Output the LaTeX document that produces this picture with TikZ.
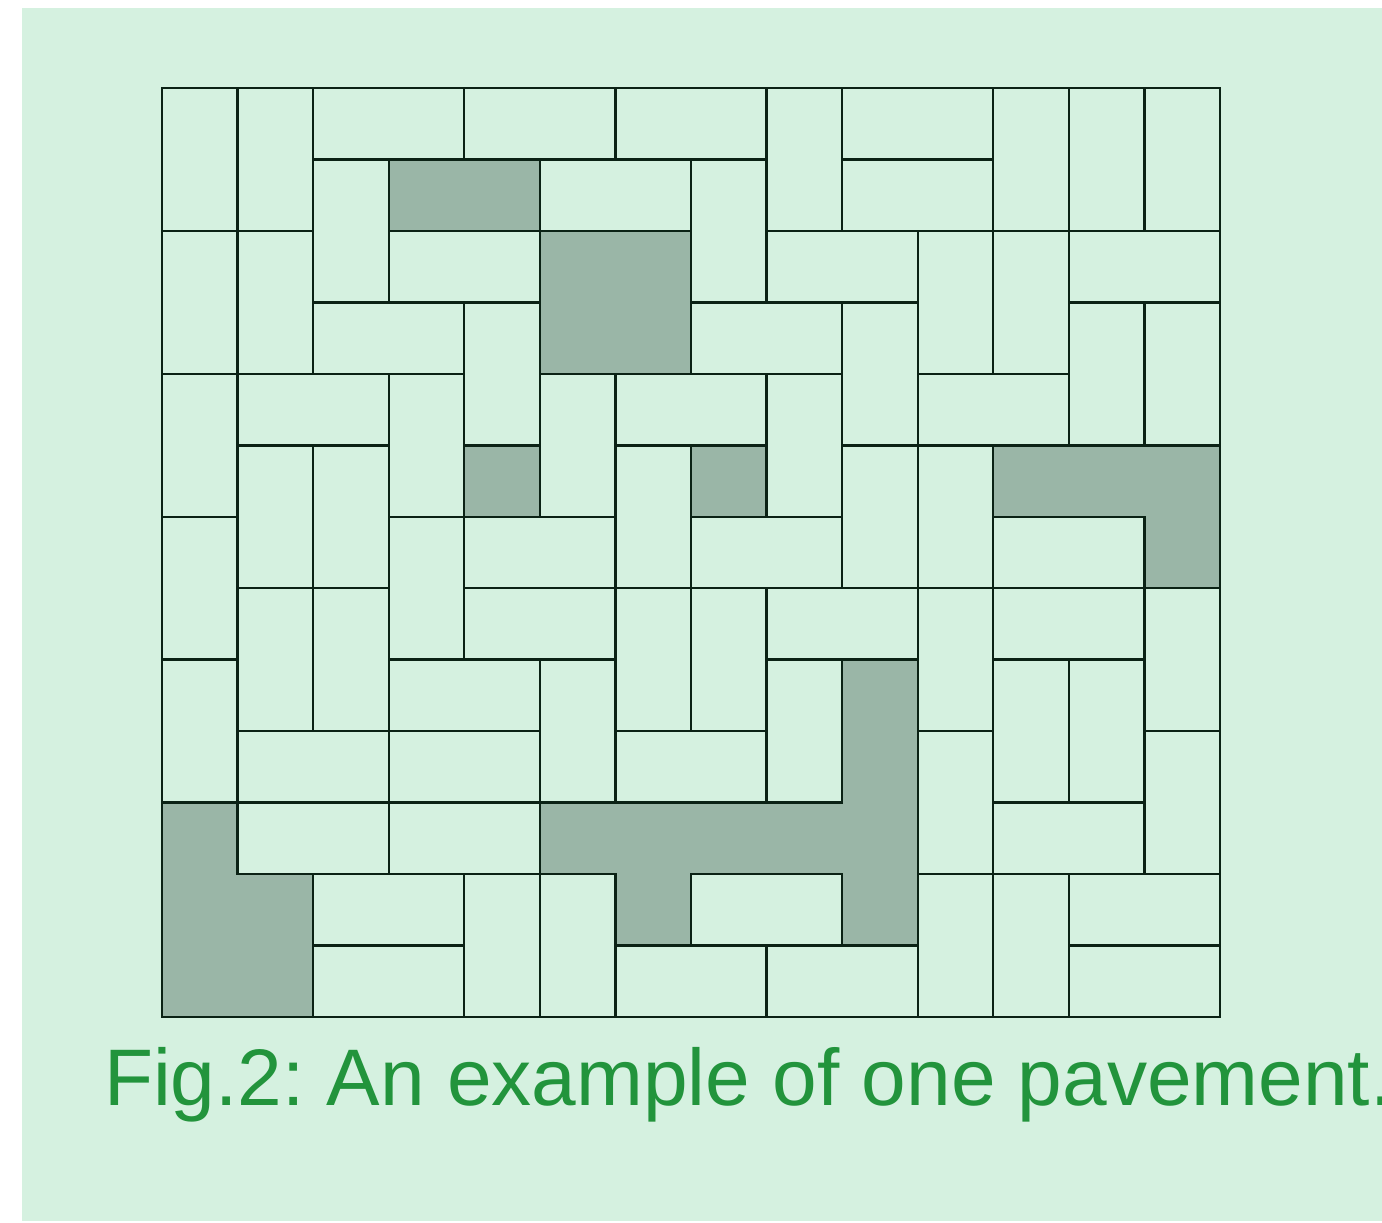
\documentclass[tikz,border=0pt]{standalone}
\usepackage{fontspec}
\setmainfont{Liberation Sans}
\frenchspacing
\definecolor{pavebg}{HTML}{D5F1E0}
\definecolor{paveshade}{HTML}{9AB6A7}
\definecolor{paveline}{HTML}{0B2215}
\definecolor{capgreen}{HTML}{22943C}
\begin{document}
\begin{tikzpicture}[x=1cm,y=-0.9456cm,
  tile/.style={draw=paveline,line width=0.9pt,fill=pavebg,line join=miter},
  hole/.style={draw=paveline,line width=0.9pt,fill=paveshade,line join=miter}]
  \useasboundingbox (-2.144,-1.2315) rectangle (16.144,15.883);
  \fill[pavebg] (-1.853,-1.12) rectangle (16.144,15.855);
  % vertical dominoes: column/top row
  \foreach \c/\r in {0/0,1/0,8/0,11/0,12/0,13/0,2/1,7/1,0/2,1/2,10/2,11/2,
      4/3,9/3,12/3,13/3,0/4,3/4,5/4,8/4,1/5,2/5,6/5,9/5,10/5,0/6,3/6,
      1/7,2/7,6/7,7/7,10/7,13/7,0/8,5/8,8/8,11/8,12/8,10/9,13/9,
      4/11,5/11,10/11,11/11}
    \draw[tile] (\c,\r) rectangle ++(1,2);
  % horizontal dominoes: left column/row
  \foreach \c/\r in {2/0,4/0,6/0,9/0,5/1,9/1,3/2,8/2,12/2,2/3,7/3,1/4,6/4,10/4,
      4/6,7/6,11/6,4/7,8/7,11/7,3/8,1/9,3/9,6/9,1/10,3/10,11/10,
      2/11,7/11,12/11,2/12,6/12,8/12,12/12}
    \draw[tile] (\c,\r) rectangle ++(2,1);
  % the shaded pieces
  \draw[hole] (3,1) rectangle (5,2);
  \draw[hole] (5,2) rectangle (7,4);
  \draw[hole] (4,5) rectangle (5,6); \draw[hole] (7,5) rectangle (8,6);
  \draw[hole] (11,5) -- (14,5) -- (14,7) -- (13,7) -- (13,6) -- (11,6) -- cycle;
  \draw[hole] (9,8) -- (10,8) -- (10,12) -- (9,12) -- (9,11) -- (7,11) -- (7,12)
    -- (6,12) -- (6,11) -- (5,11) -- (5,10) -- (9,10) -- cycle;
  \draw[hole] (0,10) -- (1,10) -- (1,11) -- (2,11) -- (2,13) -- (0,13) -- cycle;
  \node[anchor=base west,inner sep=0pt,text=capgreen,font=\fontsize{30.2}{36}\selectfont]
    (caption) at (-0.774,14.232) {Fig.2: An example of one pavement.};
\end{tikzpicture}
\end{document}
